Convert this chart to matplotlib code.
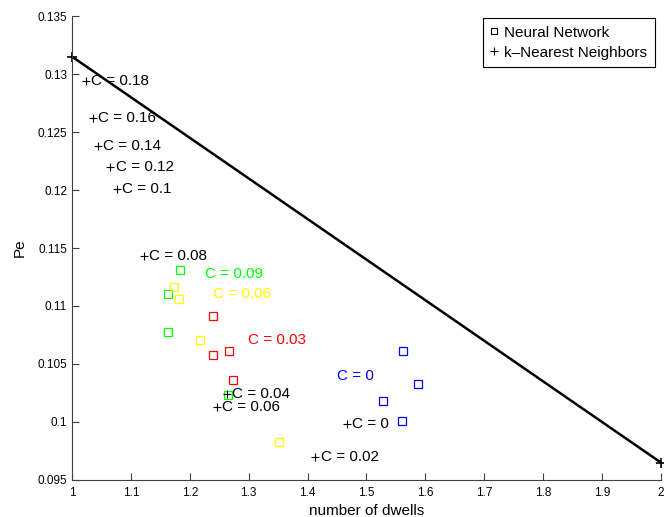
import numpy as np
import matplotlib
matplotlib.use('Agg')
from matplotlib import pyplot as plt

plt.rcParams['font.family'] = ['Liberation Sans', 'DejaVu Sans']

# k-nearest neighbours curve (end points) and labelled points
knn_line_x = [1.0, 2.0]
knn_line_y = [0.1315, 0.0965]

knn_x = [1.024, 1.036, 1.044, 1.065, 1.076, 1.122, 1.263, 1.246, 1.467, 1.413]
knn_y = [0.1294, 0.1262, 0.1238, 0.1220, 0.1201, 0.1143, 0.1024, 0.1013, 0.0998, 0.0970]
knn_labels = ['C = 0.18', 'C = 0.16', 'C = 0.14', 'C = 0.12', 'C = 0.1',
              'C = 0.08', 'C = 0.04', 'C = 0.06', 'C = 0', 'C = 0.02']

# neural network results, one group per C
nn_groups = ['C = 0.09', 'C = 0.06', 'C = 0.03', 'C = 0']
nn_colors = ['#00ff00', '#ffff00', '#ff0000', '#0000ff']
nn_x = [[1.183, 1.163, 1.163, 1.265],
        [1.173, 1.182, 1.217, 1.351],
        [1.239, 1.267, 1.239, 1.273],
        [1.562, 1.587, 1.528, 1.560]]
nn_y = [[0.1131, 0.1110, 0.1078, 0.1023],
        [0.1116, 0.1106, 0.1071, 0.0983],
        [0.1091, 0.1061, 0.1058, 0.1036],
        [0.1061, 0.1033, 0.1018, 0.1001]]
nn_label_x = [1.226, 1.239, 1.299, 1.450]
nn_label_y = [0.1128, 0.1110, 0.1071, 0.1040]

fig = plt.figure(figsize=(6.64, 5.17), dpi=100)
ax = fig.add_axes([0.1084, 0.0716, 0.887, 0.8974])

for i in range(len(nn_groups)):
    ax.plot(nn_x[i], nn_y[i], 's', mfc='none', mec=nn_colors[i], ms=6, mew=0.9)
    ax.text(nn_label_x[i], nn_label_y[i], nn_groups[i], color=nn_colors[i],
            fontsize=11, va='center', ha='left')

ax.plot(knn_line_x, knn_line_y, 'k-+', lw=1.8, ms=7, mew=1.2, clip_on=False)
ax.plot(knn_x, knn_y, 'k+', ms=6, mew=0.8)
for x, y, lab in zip(knn_x, knn_y, knn_labels):
    ax.text(x + 0.009, y, lab, fontsize=11, va='center', ha='left')

# legend handles
h1, = ax.plot([], [], 's', mfc='none', mec='k', ms=5, mew=0.8)
h2, = ax.plot([], [], 'k+', ms=6, mew=0.8)
leg = ax.legend([h1, h2], ['Neural Network', 'k\u2013Nearest Neighbors'],
                loc='upper right', fontsize=11, fancybox=False, framealpha=1,
                edgecolor='k', handlelength=0.4, borderpad=0.5,
                labelspacing=0.4, handletextpad=0.5, borderaxespad=0,
                bbox_to_anchor=(0.9898, 0.9957))
leg.get_frame().set_linewidth(0.8)

ax.set_xlim(1, 2)
ax.set_ylim(0.095, 0.135)
ax.set_xticks(np.arange(1, 2.01, 0.1))
ax.set_xticklabels(['1', '1.1', '1.2', '1.3', '1.4', '1.5', '1.6', '1.7', '1.8', '1.9', '2'])
ax.set_yticks(np.arange(0.095, 0.1351, 0.005))
ax.set_yticklabels(['0.095', '0.1', '0.105', '0.11', '0.115', '0.12', '0.125', '0.13', '0.135'])
ax.tick_params(labelsize=8.5, direction='in', length=5, color='#404040', width=0.8)
ax.tick_params(axis='x', pad=5)
ax.spines['top'].set_visible(False)
ax.spines['right'].set_visible(False)
ax.spines['left'].set_color('#404040')
ax.spines['bottom'].set_color('#404040')
ax.set_xlabel('number of dwells', fontsize=11, labelpad=4)
ax.set_ylabel('Pe', fontsize=11, labelpad=8)

fig.savefig('out.png', dpi=100)
